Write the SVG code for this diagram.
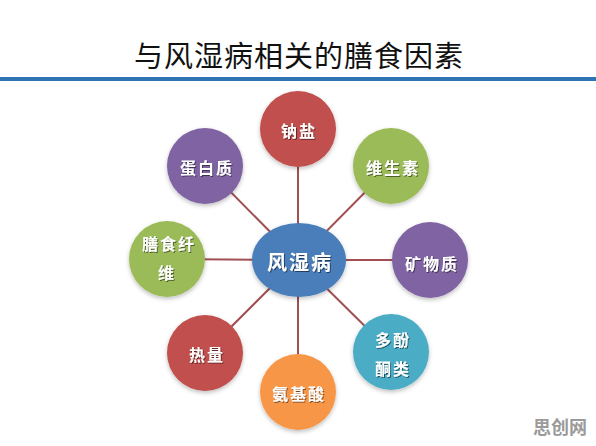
<svg xmlns="http://www.w3.org/2000/svg" width="596" height="446" viewBox="0 0 596 446">
<defs>
<filter id="sh" x="-20%" y="-20%" width="140%" height="150%">
<feDropShadow dx="0" dy="2" stdDeviation="2" flood-color="#000" flood-opacity="0.25"/>
</filter>
<filter id="tsh" x="-10%" y="-10%" width="130%" height="140%">
<feDropShadow dx="1" dy="1" stdDeviation="0.6" flood-color="#000" flood-opacity="0.5"/>
</filter>
</defs>
<style>
.title{font-family:"Noto Sans CJK SC","Noto Sans",sans-serif;font-size:29px;fill:#111;letter-spacing:1px}
.lbl{font-family:"Noto Sans CJK SC","Noto Sans",sans-serif;font-size:16px;font-weight:bold;fill:#fff;text-anchor:middle;dominant-baseline:central;letter-spacing:2px}
.ctr{font-size:20px}
.conn line{stroke:#a14f52;stroke-width:2}
.wm{font-family:"Noto Sans CJK SC","Noto Sans",sans-serif;font-size:18px;font-weight:bold;fill:#9a9a9a}
</style>
<rect width="596" height="446" fill="#fff"/>
<text class="title" x="299" y="54" text-anchor="middle" dominant-baseline="central">与风湿病相关的膳食因素</text>
<rect x="0" y="77" width="596" height="4" fill="#2e74b5"/>
<g id="connectors" class="conn">
<line x1="298" y1="260" x2="298" y2="129"/>
<line x1="298" y1="260" x2="205" y2="166"/>
<line x1="298" y1="260" x2="391" y2="166"/>
<line x1="298" y1="260" x2="167" y2="259"/>
<line x1="298" y1="260" x2="430" y2="260"/>
<line x1="298" y1="260" x2="205" y2="353"/>
<line x1="298" y1="260" x2="391" y2="352"/>
<line x1="298" y1="260" x2="298" y2="392"/>
</g>
<g id="center">
<ellipse cx="299" cy="260" rx="47" ry="37" fill="#4a7ebb" filter="url(#sh)"/>
<text class="lbl ctr" x="300" y="261" filter="url(#tsh)">风湿病</text>
</g>
<g id="n-sodium">
<circle cx="298" cy="129" r="38" fill="#c0504d" filter="url(#sh)"/>
<text class="lbl" x="299" y="130" filter="url(#tsh)">钠盐</text>
</g>
<g id="n-protein">
<circle cx="205" cy="166" r="38" fill="#8064a2" filter="url(#sh)"/>
<text class="lbl" x="207" y="167" filter="url(#tsh)">蛋白质</text>
</g>
<g id="n-vitamin">
<circle cx="391" cy="166" r="38" fill="#9bbb59" filter="url(#sh)"/>
<text class="lbl" x="393" y="167" filter="url(#tsh)">维生素</text>
</g>
<g id="n-fiber">
<circle cx="167" cy="259" r="38" fill="#9bbb59" filter="url(#sh)"/>
<text class="lbl" x="169" y="243" filter="url(#tsh)">膳食纤</text>
<text class="lbl" x="167" y="272" filter="url(#tsh)">维</text>
</g>
<g id="n-mineral">
<circle cx="430" cy="260" r="38" fill="#8064a2" filter="url(#sh)"/>
<text class="lbl" x="432" y="263" filter="url(#tsh)">矿物质</text>
</g>
<g id="n-calorie">
<circle cx="205" cy="353" r="38" fill="#c0504d" filter="url(#sh)"/>
<text class="lbl" x="207" y="354" filter="url(#tsh)">热量</text>
</g>
<g id="n-amino">
<circle cx="298" cy="392" r="38" fill="#f79646" filter="url(#sh)"/>
<text class="lbl" x="299" y="393" filter="url(#tsh)">氨基酸</text>
</g>
<g id="n-polyphenol">
<circle cx="391" cy="352" r="38" fill="#4bacc6" filter="url(#sh)"/>
<text class="lbl" x="393" y="339" filter="url(#tsh)">多酚</text>
<text class="lbl" x="393" y="368" filter="url(#tsh)">酮类</text>
</g>
<text class="wm" x="533" y="434">思创网</text>
</svg>
